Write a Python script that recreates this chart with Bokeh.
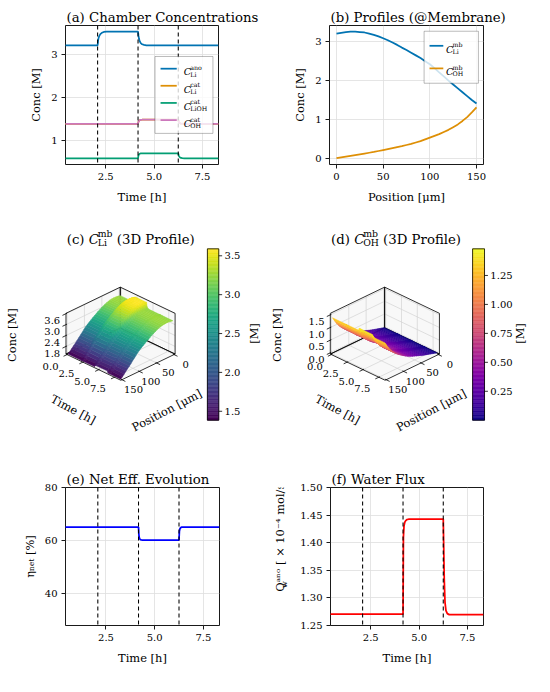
import numpy as np
from bokeh.plotting import figure
from bokeh.models import (Range1d, FixedTicker, PrintfTickFormatter, Label, Span, Title,
                          BoxAnnotation, LinearColorMapper, ColumnDataSource)
from bokeh.layouts import column, row
from bokeh.palettes import Viridis256, Plasma256
from bokeh.embed import file_html
from bokeh.resources import INLINE

# ---------------------------------------------------------------- data
time_h = [0.00, 2.08, 2.10, 2.13, 2.17, 2.22, 2.30, 2.40, 2.55, 4.17, 4.19, 4.22, 4.26,
          4.31, 4.38, 4.48, 4.60, 6.25, 6.27, 6.30, 6.34, 6.39, 6.46, 6.56, 6.70, 8.33]
c_li_ano = [3.21, 3.21, 3.30, 3.38, 3.43, 3.47, 3.50, 3.52, 3.53, 3.53, 3.44, 3.36, 3.30,
            3.26, 3.235, 3.22, 3.21, 3.21, 3.21, 3.21, 3.21, 3.21, 3.21, 3.21, 3.21, 3.21]
c_li_cat = [1.385, 1.385, 1.385, 1.385, 1.385, 1.385, 1.385, 1.385, 1.385, 1.385, 1.43, 1.455, 1.47,
            1.477, 1.48, 1.48, 1.48, 1.48, 1.44, 1.415, 1.40, 1.39, 1.387, 1.385, 1.385, 1.385]
c_lioh_cat = [0.585, 0.585, 0.585, 0.585, 0.585, 0.585, 0.585, 0.585, 0.585, 0.585, 0.645, 0.675, 0.69,
              0.697, 0.70, 0.70, 0.70, 0.70, 0.655, 0.625, 0.605, 0.593, 0.588, 0.585, 0.585, 0.585]
c_oh_cat = [1.385, 1.385, 1.385, 1.385, 1.385, 1.385, 1.385, 1.385, 1.385, 1.385, 1.43, 1.455, 1.47,
            1.477, 1.48, 1.48, 1.48, 1.48, 1.44, 1.415, 1.40, 1.39, 1.387, 1.385, 1.385, 1.385]
eta_net = [65.1, 65.1, 65.1, 65.1, 65.1, 65.1, 65.1, 65.1, 65.1, 65.1, 62.0, 60.8, 60.4,
           60.25, 60.2, 60.2, 60.2, 60.2, 63.5, 64.5, 64.9, 65.05, 65.1, 65.1, 65.1, 65.1]
q_w_ano = [1.2705, 1.2705, 1.2705, 1.2705, 1.2705, 1.2705, 1.2705, 1.2705, 1.2705, 1.2705, 1.410, 1.430, 1.437,
           1.440, 1.442, 1.4428, 1.4428, 1.4428, 1.400, 1.335, 1.292, 1.277, 1.2715, 1.2697, 1.2695, 1.2695]
event_h = [2.08, 4.17, 6.25]

pos_um = [0, 5, 10, 15, 20, 25, 30, 35, 40, 45, 50, 55, 60, 65, 70, 75,
          80, 85, 90, 95, 100, 105, 110, 115, 120, 125, 130, 135, 140, 145, 150]
c_li_mb = [3.21, 3.23, 3.25, 3.26, 3.26, 3.25, 3.24, 3.21, 3.18, 3.14, 3.09, 3.04, 2.98, 2.92, 2.85, 2.79,
           2.72, 2.65, 2.58, 2.50, 2.42, 2.32, 2.21, 2.11, 2.00, 1.90, 1.80, 1.70, 1.60, 1.50, 1.41]
c_oh_mb = [0.00, 0.02, 0.04, 0.06, 0.08, 0.10, 0.12, 0.14, 0.16, 0.185, 0.21, 0.235, 0.26, 0.285, 0.31, 0.34,
           0.37, 0.405, 0.44, 0.485, 0.53, 0.575, 0.62, 0.675, 0.73, 0.80, 0.87, 0.96, 1.06, 1.18, 1.31]

time_ticks = [2.5, 5.0, 7.5]
time3d_ticks = [0.0, 2.5, 5.0, 7.5]
pos_ticks = [0, 50, 100, 150]
conc_a_ticks = [1, 2, 3]
conc_b_ticks = [0, 1, 2, 3]
eta_ticks = [40, 60, 80]
q_ticks = [1.25, 1.30, 1.35, 1.40, 1.45, 1.50]
zc_ticks = [1.8, 2.4, 3.0, 3.6]
zd_ticks = [0.0, 0.5, 1.0, 1.5]
cbc_ticks = [1.5, 2.0, 2.5, 3.0, 3.5]
cbd_ticks = [0.25, 0.50, 0.75, 1.00, 1.25]

BLUE, ORANGE, GREEN, PINK = "#0173B2", "#DE8F05", "#029E73", "#CC78BC"

# ---------------------------------------------------------------- layout helpers
S = 0.97
FONT = "DejaVu Serif"
TICK_PX = 10.3
LAB_PX = 11.8
TITLE_PX = 13.7
RH = [(0, 215), (215, 447), (447, 692)]

W_EM = {' ': 0.318, '(': 0.390, ')': 0.390, '[': 0.390, ']': 0.390, '.': 0.318, '/': 0.337,
        '%': 0.950, '@': 1.000, '×': 0.838, '−': 0.838, '-': 0.338,
        'a': 0.596, 'b': 0.640, 'c': 0.560, 'd': 0.640, 'e': 0.592, 'f': 0.370, 'g': 0.640,
        'h': 0.644, 'i': 0.320, 'l': 0.320, 'm': 0.948, 'n': 0.644, 'o': 0.602, 'p': 0.640,
        'r': 0.478, 's': 0.513, 't': 0.402, 'u': 0.644, 'v': 0.565, 'w': 0.856, 'x': 0.564,
        'y': 0.565, 'C': 0.734, 'D': 0.830, 'E': 0.730, 'F': 0.694, 'H': 0.872, 'L': 0.653,
        'M': 0.995, 'N': 0.872, 'O': 0.820, 'P': 0.732, 'Q': 0.820, 'T': 0.682, 'W': 1.103,
        'η': 0.644, 'μ': 0.650}
for d in "0123456789":
    W_EM[d] = 0.636


def tw(txt, size, italic=False):
    return sum(W_EM.get(ch, 0.6) for ch in txt) * size * (0.95 if italic else 1.0)


def px(v):
    return int(round(v * S))


def rich(p, to_data, pieces, ax, ay, level="annotation"):
    """horizontal rich text; pieces: (text, size_ref_px, style, dy_ref_px, advance or None)"""
    pos = 0.0
    for (t, sz, st, dy, adv) in pieces:
        w = tw(t, sz, st == "italic") if adv is None else adv
        lead = len(t) - len(t.lstrip(" "))
        shift = tw(" " * lead, sz)
        x, y = to_data(ax + pos + shift, ay - dy)
        p.add_layout(Label(x=x, y=y, text=t.strip(" "), text_font=FONT,
                           text_font_size=f"{sz * S:.2f}px",
                           text_font_style=st, text_align="left",
                           text_baseline="alphabetic", text_color="black", level=level))
        pos += w


def plain(p, to_data, txt, rx, ry, size, angle_deg=0.0, align="center", baseline="middle",
          style="normal"):
    x, y = to_data(rx, ry)
    p.add_layout(Label(x=x, y=y, text=txt, text_font=FONT, text_font_size=f"{size * S:.2f}px",
                       angle=np.radians(angle_deg), angle_units="rad", text_align=align,
                       text_baseline=baseline, text_color="black", text_font_style=style))


def cm_sym(sup, sub, size=10.0, ssize=6.5):
    ws = max(tw(sup, ssize), tw(sub, ssize))
    return [("C", size, "italic", 0.0, tw("C", size, True) - 0.3),
            (sup, ssize, "normal", 4.5, 0.0),
            (sub, ssize, "normal", -2.2, ws)]


def blank(cx0, cx1, rw):
    """a figure whose frame is the whole cell; reference-pixel helper mapping"""
    cy0, cy1 = RH[rw]
    W = px(cx1) - px(cx0)
    H = px(cy1) - px(cy0)
    p = figure(width=W, height=H, x_range=Range1d(0, W), y_range=Range1d(0, H),
               x_axis_type=None, y_axis_type=None, toolbar_location=None,
               output_backend="svg", title=None, min_border=0)
    p.outline_line_color = None
    ox, oy = px(cx0), px(cy0)

    def to_data(rx, ry):
        return (rx * S - ox, H - (ry * S - oy))
    return p, to_data


def new2d(cx0, cx1, rw, frame, xr, yr, xt, yt, xfmt, yfmt, title, xlabel, ylabel=None):
    cy0, cy1 = RH[rw]
    W = px(cx1) - px(cx0)
    H = px(cy1) - px(cy0)
    L, T, R, B = frame
    mbl = px(L) - px(cx0)
    fw = px(R) - px(L)
    mbr = W - mbl - fw
    mbt = px(T) - px(cy0)
    fh = px(B) - px(T)
    mbb = H - mbt - fh
    p = figure(width=W, height=H, x_range=Range1d(*xr), y_range=Range1d(*yr),
               toolbar_location=None, output_backend="svg", title=None,
               min_border_left=mbl, min_border_right=mbr, min_border_top=mbt,
               min_border_bottom=mbb)
    p.title = Title(text=title, align="left", offset=1, standoff=2, text_font=FONT,
                    text_font_size=f"{TITLE_PX * S:.2f}px", text_font_style="normal",
                    text_color="black")
    p.outline_line_color = "black"
    p.outline_line_width = 0.9
    p.xaxis.ticker = FixedTicker(ticks=xt)
    p.yaxis.ticker = FixedTicker(ticks=yt)
    p.xgrid.ticker = FixedTicker(ticks=xt)
    p.ygrid.ticker = FixedTicker(ticks=yt)
    p.xaxis.formatter = PrintfTickFormatter(format=xfmt)
    p.yaxis.formatter = PrintfTickFormatter(format=yfmt)
    for ax in p.axis:
        ax.axis_line_color = None
        ax.major_tick_line_color = "black"
        ax.major_tick_line_width = 0.9
        ax.major_tick_out = 4
        ax.major_tick_in = 0
        ax.minor_tick_line_color = None
        ax.major_label_text_font = FONT
        ax.major_label_text_font_size = f"{TICK_PX * S:.2f}px"
        ax.major_label_text_color = "black"
        ax.axis_label_text_font = FONT
        ax.axis_label_text_font_size = f"{LAB_PX * S:.2f}px"
        ax.axis_label_text_font_style = "normal"
        ax.axis_label_text_color = "black"
    p.xaxis.major_label_standoff = 4
    p.yaxis.major_label_standoff = 4
    p.xaxis.axis_label = xlabel
    p.xaxis.axis_label_standoff = 7
    if ylabel:
        p.yaxis.axis_label = ylabel
        p.yaxis.axis_label_standoff = 5
    p.grid.grid_line_color = "#dedede"
    p.grid.grid_line_width = 0.8
    ox, oy = px(cx0), px(cy0)

    def to_data(rx, ry):
        sx = rx * S - ox
        sy = ry * S - oy
        return (xr[0] + (sx - mbl) / fw * (xr[1] - xr[0]),
                yr[1] - (sy - mbt) / fh * (yr[1] - yr[0]))
    return p, to_data


def add_events(p):
    for tv in event_h:
        p.add_layout(Span(location=tv, dimension="height", line_color="black",
                          line_width=1.1 * S, line_dash="4 3"))


def add_legend(p, to_data, box, sample_x, text_x, rows):
    l, t = to_data(box[0], box[1])
    r, b = to_data(box[2], box[3])
    p.add_layout(BoxAnnotation(left=l, right=r, top=t, bottom=b, fill_color="white",
                               fill_alpha=0.8, line_color="black", line_width=0.9,
                               level="annotation"))
    for (yy, color, sup, sub) in rows:
        x0, y0 = to_data(sample_x[0], yy)
        x1, _ = to_data(sample_x[1], yy)
        rr = p.segment(x0=[x0], y0=[y0], x1=[x1], y1=[y0], line_color=color, line_width=1.8 * S)
        rr.level = "overlay"
        rich(p, to_data, cm_sym(sup, sub), text_x, yy + 3.4, level="overlay")


lw = 1.8 * S

# ---------------------------------------------------------------- (a)
pa, ta = new2d(0, 275, 0, (67, 26, 225, 168.7), (0.42, 8.33), (0.44, 3.67),
               time_ticks, conc_a_ticks, "%.1f", "%d",
               "(a) Chamber Concentrations", "Time [h]", "Conc [M]")
pa.line(time_h, c_li_ano, line_color=BLUE, line_width=lw)
pa.line(time_h, c_li_cat, line_color=ORANGE, line_width=lw)
pa.line(time_h, c_lioh_cat, line_color=GREEN, line_width=lw)
pa.line(time_h, c_oh_cat, line_color=PINK, line_width=lw)
add_events(pa)
add_legend(pa, ta, (159.3, 57.7, 219, 137), (165, 181.7), 189,
           [(70.3, BLUE, "ano", "Li"), (87.9, ORANGE, "cat", "Li"),
            (105.6, GREEN, "cat", "LiOH"), (123.3, PINK, "cat", "OH")])

# ---------------------------------------------------------------- (b)
pb, tb = new2d(275, 550, 0, (339.3, 26, 498.3, 168.7), (-7.5, 157.5), (-0.163, 3.42),
               pos_ticks, conc_b_ticks, "%d", "%d",
               "(b) Profiles (@Membrane)", "Position [μm]", "Conc [M]")
pb.line(pos_um, c_li_mb, line_color=BLUE, line_width=lw)
pb.line(pos_um, c_oh_mb, line_color=ORANGE, line_width=lw)
add_legend(pb, tb, (436.7, 31.7, 492.7, 85.3), (442.3, 456.5), 459.3,
           [(46.7, BLUE, "mb", "Li"), (70.0, ORANGE, "mb", "OH")])


# ---------------------------------------------------------------- 3D panels
def panel3d(cx0, cx1, rw, dx, tlim, plim, zlim, zticks, Z, palette, cb_ticks, cb_fmt,
            cbx, sub, letter):
    p, to_data = blank(cx0, cx1, rw)

    Bx, By = 123.5 + dx, 337.5
    Rx, Ry = 180.0 + dx, 364.5
    Lx, Ly = 67.5 + dx, 364.5
    h = 42.0
    t0, t1 = tlim
    p0, p1 = plim
    z0, z1 = zlim

    def projr(t, pp, z):
        tf = (np.asarray(t, float) - t0) / (t1 - t0)
        pf = (np.asarray(pp, float) - p0) / (p1 - p0)
        zf = (np.asarray(z, float) - z0) / (z1 - z0)
        rx = Bx + tf * (Rx - Bx) + pf * (Lx - Bx)
        ry = By + tf * (Ry - By) + pf * (Ly - By) - zf * h
        return rx, ry

    def projd(t, pp, z):
        rx, ry = projr(t, pp, z)
        return to_data(rx, ry)

    panes = [[(t0, p0, z0), (t1, p0, z0), (t1, p1, z0), (t0, p1, z0)],
             [(t0, p0, z0), (t0, p1, z0), (t0, p1, z1), (t0, p0, z1)],
             [(t0, p0, z0), (t1, p0, z0), (t1, p0, z1), (t0, p0, z1)]]
    pxs, pys = [], []
    for pane in panes:
        xs, ys = zip(*[projd(*c) for c in pane])
        pxs.append([float(v) for v in xs])
        pys.append([float(v) for v in ys])
    p.patches(pxs, pys, fill_color="#f8f8f8", line_color=None)
    gx, gy = [], []

    def seg(a, b):
        xa, ya = projd(*a)
        xb, yb = projd(*b)
        gx.append([float(xa), float(xb)])
        gy.append([float(ya), float(yb)])
    for tv in time3d_ticks:
        seg((tv, p0, z0), (tv, p1, z0))
        seg((tv, p0, z0), (tv, p0, z1))
    for pv in pos_ticks:
        seg((t0, pv, z0), (t1, pv, z0))
        seg((t0, pv, z0), (t0, pv, z1))
    for zv in zticks:
        seg((t0, p0, zv), (t0, p1, zv))
        seg((t0, p0, zv), (t1, p0, zv))
    p.multi_line(gx, gy, line_color="#d2d2d2", line_width=0.7)
    ex, ey = [], []
    for pane in panes:
        xs, ys = zip(*[projd(*c) for c in pane + [pane[0]]])
        ex.append([float(v) for v in xs])
        ey.append([float(v) for v in ys])
    p.multi_line(ex, ey, line_color="black", line_width=0.8)

    def unit(vx, vy):
        n = np.hypot(vx, vy)
        return vx / n, vy / n
    dLx, dLy = unit(Lx - Bx, Ly - By)
    dRx, dRy = unit(Rx - Bx, Ry - By)
    tx, ty = [], []

    def tick(rx, ry, ux, uy):
        a = to_data(rx - 1.2 * ux, ry - 1.2 * uy)
        b = to_data(rx + 4.0 * ux, ry + 4.0 * uy)
        tx.append([a[0], b[0]])
        ty.append([a[1], b[1]])
    for tv in time3d_ticks:
        rx, ry = projr(tv, p1, z0)
        tick(rx, ry, dLx, dLy)
        plain(p, to_data, f"{tv:.1f}", rx - 17, ry + 12, TICK_PX)
    for pv in pos_ticks:
        rx, ry = projr(t1, pv, z0)
        tick(rx, ry, dRx, dRy)
        plain(p, to_data, f"{pv:d}", rx + 12, ry + 10, TICK_PX)
    for zv in zticks:
        rx, ry = projr(t0, p1, zv)
        tick(rx, ry, dLx, dLy)
        plain(p, to_data, f"{zv:.1f}", rx - 6, ry + 7, TICK_PX, align="right")
    p.multi_line(tx, ty, line_color="black", line_width=0.8)

    T = np.array(time_h)
    P = np.array(pos_um, float)
    Zr = np.asarray(Z)
    vmin, vmax = float(Zr.min()), float(Zr.max())
    mapper = LinearColorMapper(palette=palette, low=vmin, high=vmax)
    quads = []
    for i in range(len(T) - 1):
        for j in range(len(P) - 1):
            cs = [(T[i], P[j], Zr[i, j]), (T[i + 1], P[j], Zr[i + 1, j]),
                  (T[i + 1], P[j + 1], Zr[i + 1, j + 1]), (T[i], P[j + 1], Zr[i, j + 1])]
            val = float(np.mean([c[2] for c in cs]))
            tf = (np.mean([c[0] for c in cs]) - t0) / (t1 - t0)
            pf = (np.mean([c[1] for c in cs]) - p0) / (p1 - p0)
            zf = (val - z0) / (z1 - z0)
            near = tf + pf + 0.61 * zf
            xs, ys = zip(*[projd(*c) for c in cs])
            quads.append((near, [float(v) for v in xs], [float(v) for v in ys], val))
    quads.sort(key=lambda q: q[0])
    src = ColumnDataSource(dict(xs=[q[1] for q in quads], ys=[q[2] for q in quads],
                                val=[q[3] for q in quads]))
    p.patches("xs", "ys", source=src, fill_color={"field": "val", "transform": mapper},
              line_color={"field": "val", "transform": mapper}, line_width=0.5)

    ytop, ybot = 256.0, 432.7
    xl, xr_ = cbx
    nb = 128
    vals = [vmin + (k + 0.5) * (vmax - vmin) / nb for k in range(nb)]
    bots, tops = [], []
    for k in range(nb):
        _, yb_ = to_data(0, ybot - k / nb * (ybot - ytop))
        _, yt_ = to_data(0, ybot - (k + 1) / nb * (ybot - ytop))
        bots.append(yb_)
        tops.append(yt_)
    lft, _ = to_data(xl, 0)
    rgt, _ = to_data(xr_, 0)
    cbsrc = ColumnDataSource(dict(left=[lft] * nb, right=[rgt] * nb, top=tops, bottom=bots, v=vals))
    p.quad(left="left", right="right", top="top", bottom="bottom", source=cbsrc,
           fill_color={"field": "v", "transform": mapper},
           line_color={"field": "v", "transform": mapper}, line_width=0.5)
    ox, oy = zip(*[to_data(*c) for c in [(xl, ytop), (xr_, ytop), (xr_, ybot), (xl, ybot), (xl, ytop)]])
    p.line(list(ox), list(oy), line_color="black", line_width=0.8)
    cx_, cy_ = [], []
    for v in cb_ticks:
        yy = ybot - (v - vmin) / (vmax - vmin) * (ybot - ytop)
        a = to_data(xr_, yy)
        b = to_data(xr_ + 3.5, yy)
        cx_.append([a[0], b[0]])
        cy_.append([a[1], b[1]])
        plain(p, to_data, cb_fmt % v, xr_ + 6, yy, TICK_PX, align="left")
    p.multi_line(cx_, cy_, line_color="black", line_width=0.8)

    plain(p, to_data, "[M]", xr_ + 36.7, 343.3, LAB_PX, angle_deg=90)
    plain(p, to_data, "Conc [M]", 12.2 + dx, 345, LAB_PX, angle_deg=90)
    plain(p, to_data, "Time [h]", 75 + dx, 421.7, LAB_PX, angle_deg=-28)
    plain(p, to_data, "Position [μm]", 171.5 + dx, 422.5, LAB_PX, angle_deg=27.6)
    ssz = TITLE_PX * 0.7
    pieces = [(f"({letter})", TITLE_PX, "normal", 0, tw(f"({letter}) ", TITLE_PX)),
              ("C", TITLE_PX, "italic", 0, tw("C", TITLE_PX, True) - 0.3),
              ("mb", ssz, "normal", 6.0, 0.0),
              (sub, ssz, "normal", -3.3, max(tw("mb", ssz), tw(sub, ssz))),
              (" (3D Profile)", TITLE_PX, "normal", 0, None)]
    rich(p, to_data, pieces, 68.3 + dx, 246)
    return p


ano = np.array(c_li_ano)
catli = np.array(c_li_cat)
shape_li = (np.array(c_li_mb) - c_li_mb[-1]) / (c_li_mb[0] - c_li_mb[-1])
Z_li = catli[:, None] + (ano - catli)[:, None] * shape_li[None, :]
Z_oh = np.array(c_oh_cat)[:, None] * (np.array(c_oh_mb) / c_oh_mb[-1])[None, :]

pc = panel3d(0, 275, 1, 0.0, (-0.17, 8.5), (-3.1, 153.1), (1.38, 3.62), zc_ticks, Z_li,
             Viridis256, cbc_ticks, "%.1f", (213.3, 225.0), "Li", "c")
pd_ = panel3d(275, 550, 1, 272.5, (-0.17, 8.5), (-3.1, 153.1), (-0.05, 1.56), zd_ticks, Z_oh,
              Plasma256, cbd_ticks, "%.2f", (486.7, 499.0), "OH", "d")

# ---------------------------------------------------------------- (e)
pe, te = new2d(0, 227, 2, (67, 501.7, 225.3, 644), (0.42, 8.33), (28, 80),
               time_ticks, eta_ticks, "%.1f", "%d", "(e) Net Eff. Evolution", "Time [h]",
               "ηₙₑₜ [%]")
pe.line(time_h, eta_net, line_color="#0000ff", line_width=lw)
add_events(pe)

# ---------------------------------------------------------------- (f)
lf, tlf = blank(227, 305, 2)
# label starts at the bottom (known anchor), so the subscript sits right after "Q"
plain(lf, tlf, "Qᵃⁿᵒ  [ × 10⁻⁴ mol/s]", 288, 632, LAB_PX, angle_deg=90, align="left")
plain(lf, tlf, "w", 292.3, 632 - tw("Q", LAB_PX) - 3.0, LAB_PX * 0.7, angle_deg=90)
pf, tf_ = new2d(305, 550, 2, (340.3, 501.7, 498.3, 644), (0.42, 8.33), (1.25, 1.50),
                time_ticks, q_ticks, "%.1f", "%.2f", "(f) Water Flux", "Time [h]")
pf.line(time_h, q_w_ano, line_color="#ff0000", line_width=lw)
add_events(pf)

layout = column(row(pa, pb), row(pc, pd_), row(pe, lf, pf))
open("out.html", "w").write(file_html(layout, INLINE))
